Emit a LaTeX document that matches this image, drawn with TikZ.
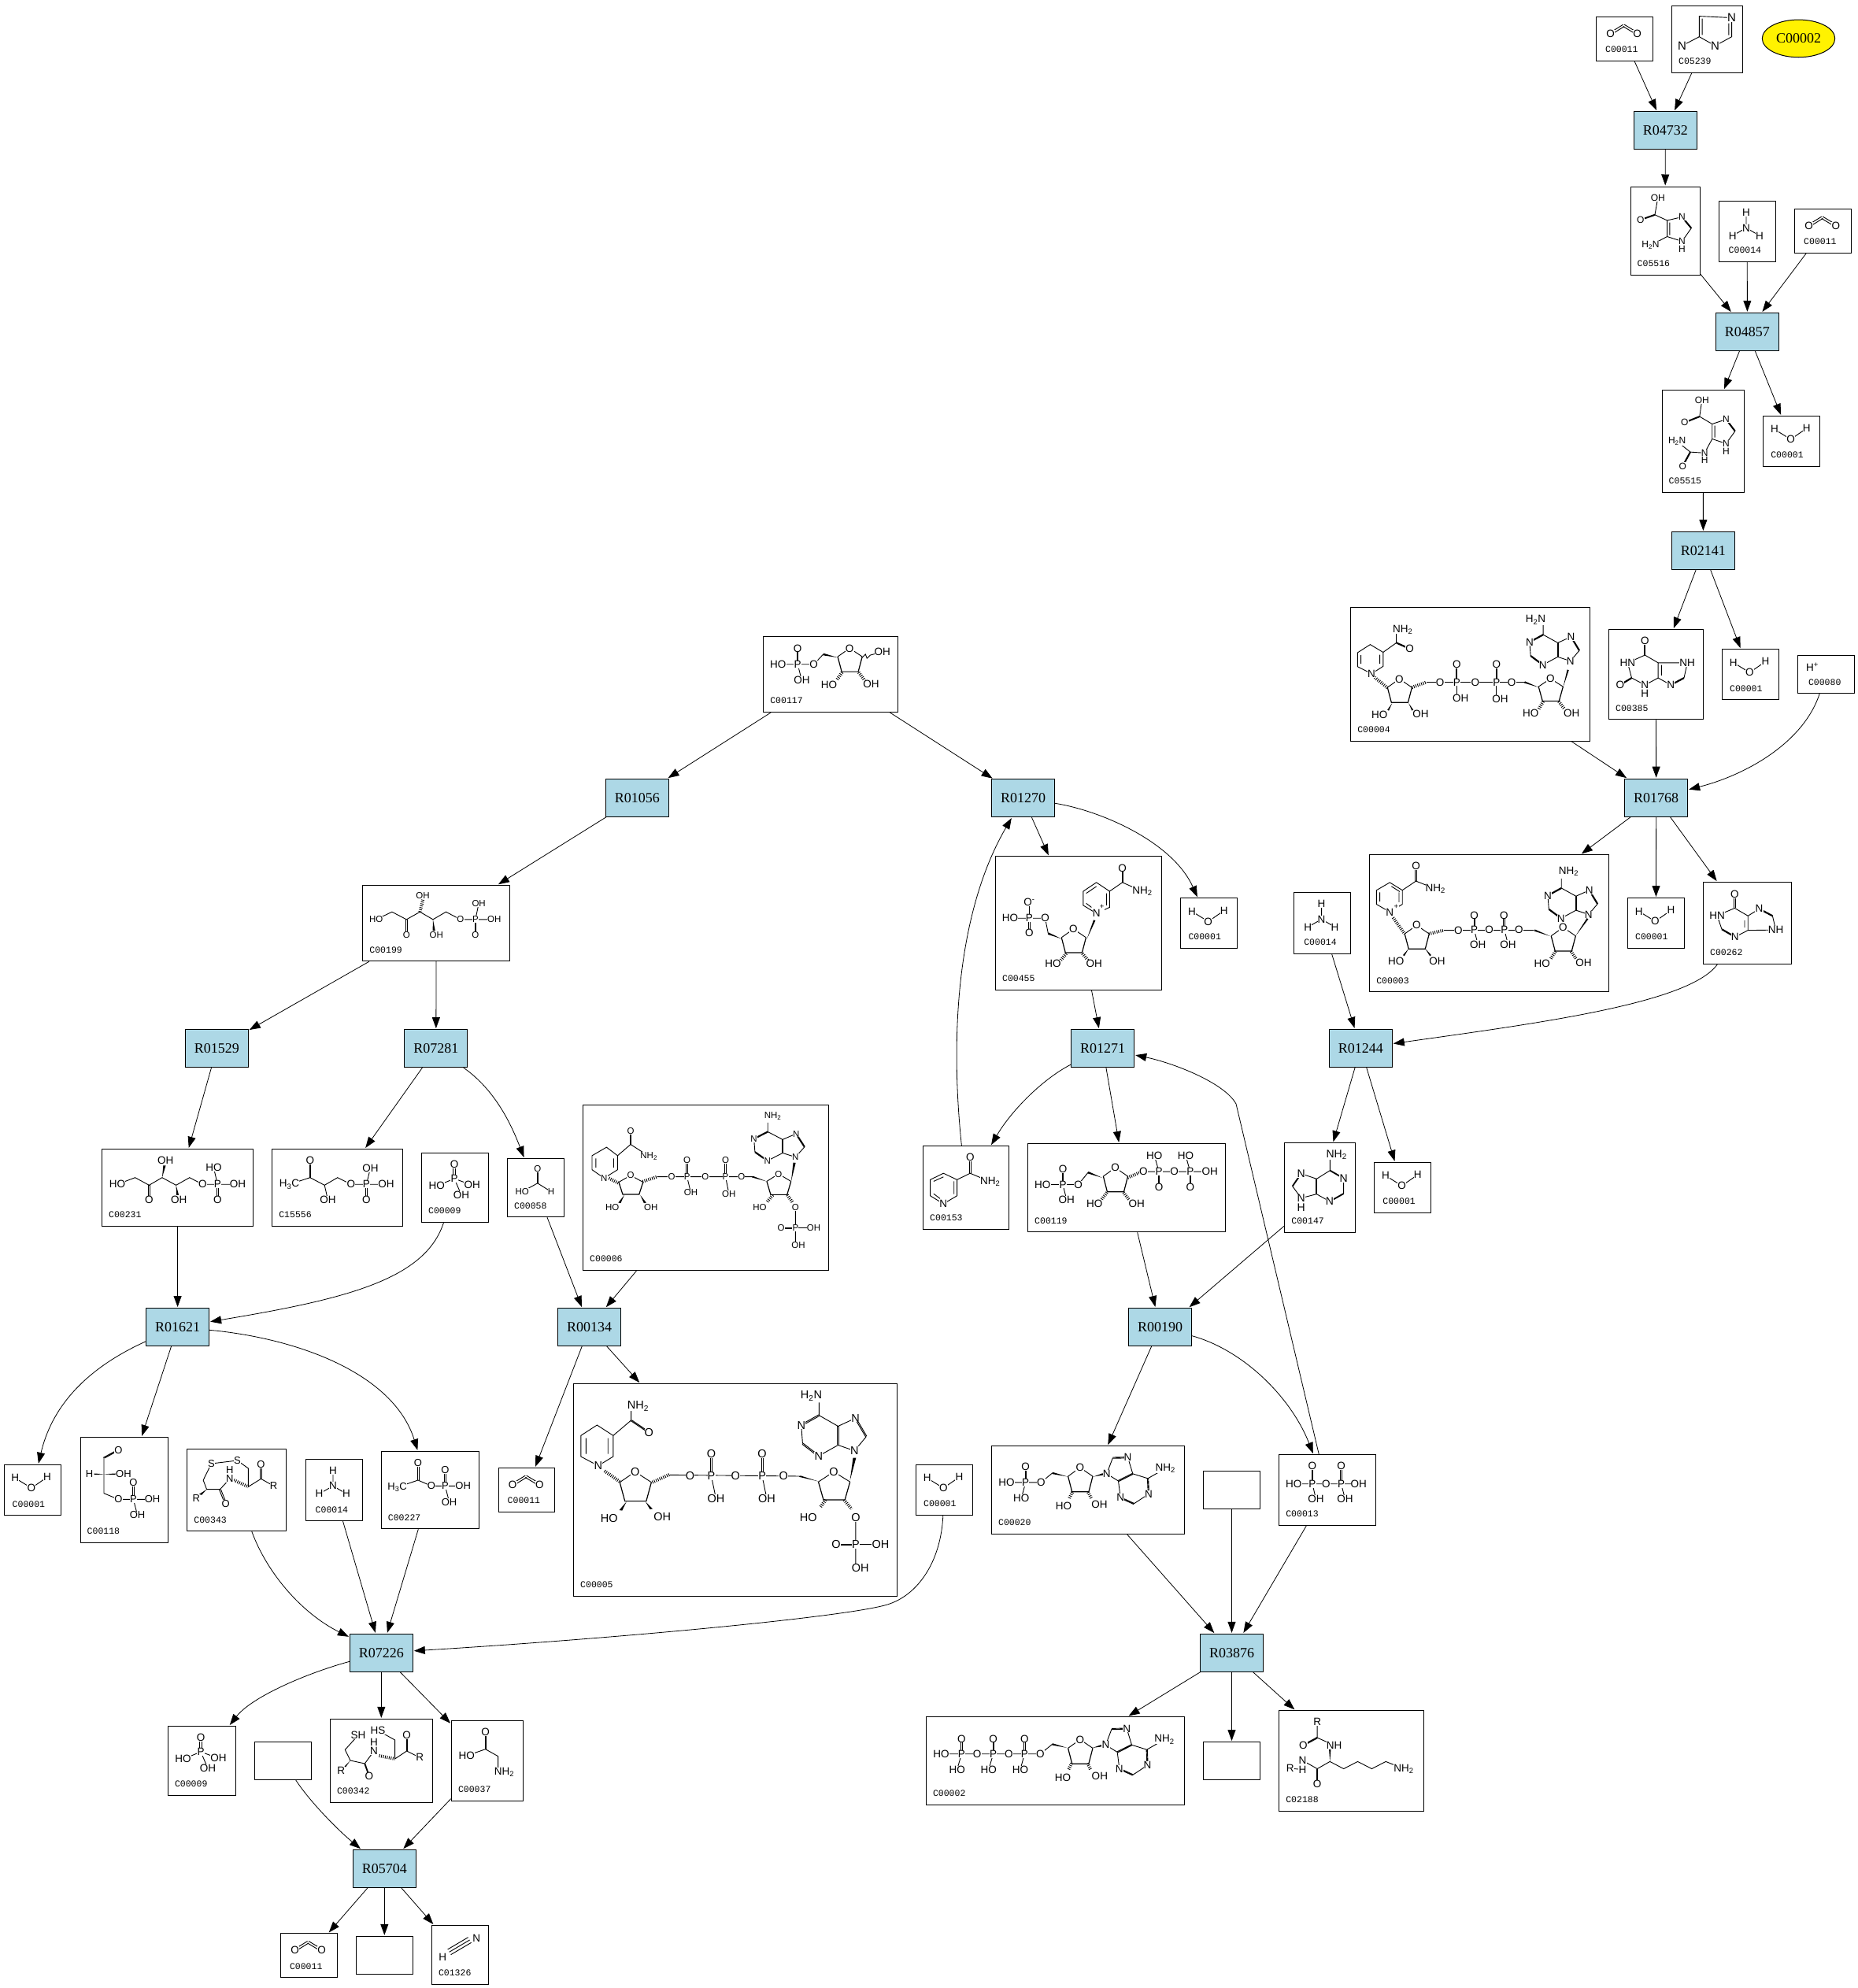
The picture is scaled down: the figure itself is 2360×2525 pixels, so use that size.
\documentclass[tikz,border=0pt]{standalone}
\usepackage{fontspec}
\setmainfont{Liberation Serif}
\setsansfont{Liberation Sans}
\setmonofont{Liberation Mono}
\usetikzlibrary{arrows.meta,calc,shapes.geometric}
\definecolor{rxnblue}{HTML}{ADD8E6}
\newcommand{\asize}{13.5}
\tikzset{
rxn/.style={draw,fill=rxnblue,line width=1pt,minimum width=80pt,minimum height=48pt,inner sep=0pt,font=\fontsize{18}{18}\selectfont},
cpdbox/.style={draw,line width=1pt,inner sep=0pt},
cid/.style={inner sep=0pt,anchor=west,font=\ttfamily\fontsize{11.5}{12}\selectfont},
atom/.style={fill=white,inner sep=.2pt,font=\sffamily\fontsize{\asize}{\asize}\selectfont},
bond/.style={line width=.9pt},
hashb/.style={line width=4pt,dash pattern=on .9pt off 1.6pt},
flow/.style={-{Triangle[length=14pt,width=10pt]},line width=.8pt,shorten >=1pt},
zoomA/.style={shift={(1700,0)},xscale=.4209,yscale=.3954},
zoomB/.style={shift={(1700,620)},xscale=.4209,yscale=.4464},
zoomC/.style={shift={(950,780)},xscale=.4785,yscale=.5102},
zoomD/.style={shift={(100,1100)},xscale=.6122,yscale=.3571},
zoomE/.style={shift={(0,1660)},xscale=.7334,yscale=.3333},
zoomF/.style={shift={(180,2060)},scale=.3333},
zoomG/.style={shift={(1150,1600)},xscale=.4464,yscale=.4592},
zoomH/.style={shift={(1620,1290)},scale=.3333}
}
\newcommand{\cpd}[7][9]{%
\node[cpdbox,minimum width={(#5-#3)*1pt},minimum height={(#6-#4)*1pt}] (#2) at ({(#3+#5)/2},{(#4+#6)/2}) {};
\node[cid] (#2-id) at ([xshift=#1pt,yshift=15pt]#2.south west) {#7};}
\newcommand{\atoms}[2]{\foreach \ax/\ay/\atxt [count=\ai] in {#2} \node[atom] (#1-\ai) at (\ax,\ay) {\atxt};}
\newcommand{\dbl}[2]{\draw[bond] ($(#1)!1.4pt!90:(#2)$) -- ($(#2)!1.4pt!-90:(#1)$) ($(#1)!1.4pt!-90:(#2)$) -- ($(#2)!1.4pt!90:(#1)$);}
\newcommand{\wdg}[2]{\fill (#1) -- ($(#2)!2.6pt!90:(#1)$) -- ($(#2)!2.6pt!-90:(#1)$) -- cycle;}
\newcommand{\furan}[5]{\begin{scope}[shift={(#2,#3)},xscale=#4,yscale=#5]
\draw[bond] (-36,24)--(0,0)--(38,24);
\draw[bond,line width=1.2pt] (38,24)--(26,67)--(-24,67)--(-36,24);
\node[atom] (#1) at (0,0) {O};
\end{scope}}
\newcommand{\adeup}[8]{\begin{scope}[shift={(#2,#3)},xscale=#4,yscale=#5]
\draw[bond] (0,0)--(27,-30) (2,-69)--(-38,-52)--(-82,-75) (-38,-12)--(0,0) (-38,-12)--(-83,11) (-120,-15)--(-123,-54) (-82,-75)--(-82,-102);
\dbl{27,-30}{2,-69}\dbl{-38,-52}{-38,-12}\dbl{-83,11}{-120,-15}\dbl{-123,-54}{-82,-75}
\atoms{#1}{0/0/N,2/-69/N,-83/11/N,-123/-54/N,#7/#8/#6}
\end{scope}}
\newcommand{\adeflip}[3]{\begin{scope}[shift={(#2,#3)}]
\draw[bond] (0,0)--(17,-44) (60,-45)--(74,0)--(117,13)--(167,-15) (33,20)--(0,0) (33,20)--(39,66) (77,83)--(119,56);
\dbl{17,-44}{60,-45}\dbl{74,0}{33,20}\dbl{39,66}{77,83}\dbl{119,56}{117,13}
\atoms{#1}{0/0/N,60/-45/N,39/66/N,119/56/N,167/-15/NH\textsubscript{2}}
\end{scope}}
\newcommand{\water}[3]{\begin{scope}[shift={(#2,#3)}]
\draw[bond] (14.3,17)--(34.9,29.7)--(55,15.8);
\atoms{#1}{14.3/17/H,34.9/29.7/O,55/15.8/H}
\end{scope}}
\newcommand{\cotwo}[3]{\begin{scope}[shift={(#2,#3)}]
\dbl{18.2,21.4}{35,11}\dbl{35,11}{52.3,21.4}
\atoms{#1}{18.2/21.4/O,52.3/21.4/O}
\end{scope}}
\newcommand{\ammonia}[3]{\begin{scope}[shift={(#2,#3)}]
\draw[bond] (35,14.6)--(35,34)--(17.6,44) (35,34)--(52,44);
\atoms{#1}{35/14.6/H,35/34/N,17.6/44/H,52/44/H}
\end{scope}}
\newcommand{\phos}[3]{\begin{scope}[shift={(#2,#3)}]
\dbl{41.7,14.7}{41.7,32.7}
\draw[bond] (19.3,42)--(41.7,32.7)--(64.3,41) (41.7,32.7)--(50.7,53.7);
\atoms{#1}{41.7/14.7/O,41.7/32.7/P,19.3/42/HO,64.3/41/OH,50.7/53.7/OH}
\end{scope}}
\begin{document}
\begin{tikzpicture}[x=1pt,y=-1pt]
\useasboundingbox[fill=white] (0,0) rectangle (2360,2525);
\node[ellipse,draw,fill=yellow,line width=1pt,minimum width=92.4pt,minimum height=47.7pt,inner sep=0pt,font=\fontsize{18}{18}\selectfont] (C00002y) at (2284.5,48.9) {C00002};
\node[rxn] (R04732) at (2115.4,165.5) {R04732};
\node[rxn] (R04857) at (2219.4,421.3) {R04857};
\node[rxn] (R02141) at (2163.4,699.5) {R02141};
\node[rxn] (R01768) at (2103.7,1013.2) {R01768};
\node[rxn] (R01244) at (1728.3,1331.3) {R01244};
\node[rxn] (R01056) at (809.3,1013.2) {R01056};
\node[rxn] (R01270) at (1299.6,1013.7) {R01270};
\node[rxn] (R01271) at (1400.7,1331.5) {R01271};
\node[rxn] (R01529) at (275.4,1331.6) {R01529};
\node[rxn] (R07281) at (553.8,1331.6) {R07281};
\node[rxn] (R01621) at (225.6,1685.5) {R01621};
\node[rxn] (R00134) at (748.7,1685.5) {R00134};
\node[rxn] (R00190) at (1473.5,1685.4) {R00190};
\node[rxn] (R03876) at (1564.5,2099.3) {R03876};
\node[rxn] (R07226) at (484.3,2099.3) {R07226};
\node[rxn] (R05704) at (488.3,2373.3) {R05704};
\node[cpdbox,minimum width=72pt,minimum height=48pt] (blankA) at (359.5,2236.5) {};
\node[cpdbox,minimum width=72pt,minimum height=48pt] (blankB) at (488.3,2483.3) {};
\node[cpdbox,minimum width=72pt,minimum height=48pt] (blankC) at (1564.5,1892.5) {};
\node[cpdbox,minimum width=72pt,minimum height=48pt] (blankD) at (1564.5,2236.6) {};
\cpd[12]{C00011a}{2027.4}{21.4}{2099.4}{77.5}{C00011}
\cpd[12]{C00011b}{2279.5}{265.3}{2351.5}{321.5}{C00011}
\cpd[12]{C00011c}{633}{1864.3}{704.3}{1920.3}{C00011}
\cpd[12]{C00011d}{356.3}{2455.7}{428.3}{2511.7}{C00011}
\cpd{C05239}{2123.4}{7.5}{2213.5}{92.5}{C05239}
\cpd{C05516}{2071}{237}{2159}{349.5}{C05516}
\cpd[13]{C00014a}{2183}{255.4}{2255.5}{332.5}{C00014}
\cpd[13]{C00014b}{1643.6}{1133.5}{1715.6}{1211.6}{C00014}
\cpd[13]{C00014c}{388}{1853.3}{460}{1931.7}{C00014}
\cpd{C05515}{2111}{495.5}{2215.6}{625.4}{C05515}
\cpd[10]{C00001a}{2239.6}{528.3}{2311.5}{592.3}{C00001}
\cpd[10]{C00001b}{2187.4}{824.5}{2259.4}{888.8}{C00001}
\cpd[10]{C00001c}{2067.4}{1140.5}{2139.4}{1204.4}{C00001}
\cpd[10]{C00001d}{1499.8}{1140.7}{1571.5}{1204.5}{C00001}
\cpd[11]{C00001e}{5}{1860.3}{77}{1924.7}{C00001}
\cpd[10]{C00001f}{1163.4}{1860.3}{1235.3}{1924.6}{C00001}
\cpd[11]{C00001g}{1745.7}{1476.3}{1817.3}{1540}{C00001}
\cpd{C00004}{1715.6}{771.3}{2019.4}{941.4}{C00004}
\cpd{C00385}{2043.4}{799.5}{2163.4}{913.8}{C00385}
\cpd[14]{C00080}{2283.3}{832.5}{2355.3}{880.7}{C00080}
\cpd{C00003}{1739.6}{1085.6}{2043.4}{1259.7}{C00003}
\cpd{C00262}{2163.4}{1120.4}{2275.3}{1224.5}{C00262}
\cpd{C00147}{1631.7}{1451.7}{1721.3}{1565.3}{C00147}
\cpd{C00117}{969.6}{808.6}{1140.4}{904.5}{C00117}
\cpd{C00455}{1264.4}{1087.7}{1475.8}{1257.6}{C00455}
\cpd{C00153}{1172.5}{1455.5}{1281.6}{1561.6}{C00153}
\cpd{C00119}{1305.5}{1452.4}{1556.7}{1564.7}{C00119}
\cpd{C00199}{460.7}{1124.3}{647.5}{1220.7}{C00199}
\cpd{C00231}{129.4}{1459.3}{321.7}{1557.5}{C00231}
\cpd{C15556}{345.6}{1459.3}{511.5}{1557.5}{C15556}
\cpd{C00009a}{535.4}{1464.3}{620.5}{1552.5}{C00009}
\cpd{C00009b}{213.3}{2192.3}{299.3}{2280.3}{C00009}
\cpd{C00058}{644.4}{1471.4}{716.7}{1545.7}{C00058}
\cpd{C00006}{740.5}{1403.2}{1052.8}{1613.6}{C00006}
\cpd{C00118}{102}{1825.3}{213.5}{1959.3}{C00118}
\cpd{C00343}{237.7}{1840.3}{363.2}{1944.7}{C00343}
\cpd{C00227}{484.2}{1843.3}{608.2}{1941.7}{C00227}
\cpd{C00005}{728.5}{1757.3}{1139.4}{2027.3}{C00005}
\cpd{C00342}{419.3}{2183.3}{549.3}{2289.3}{C00342}
\cpd{C00037}{573.3}{2185.3}{664.3}{2287.3}{C00037}
\cpd{C01326}{548.3}{2445.3}{620.3}{2520.3}{C01326}
\cpd{C00020}{1259.4}{1836.5}{1504.5}{1948.5}{C00020}
\cpd{C00013}{1624.6}{1847.5}{1747.3}{1937.5}{C00013}
\cpd{C00002}{1176.3}{2180.4}{1504.5}{2292.4}{C00002}
\cpd{C02188}{1624.6}{2172.5}{1808.5}{2300.6}{C02188}
\path[flow]
(C00011a) edge (R04732)
(C05239) edge (R04732)
(R04732) edge (C05516)
(C05516) edge (R04857)
(C00014a) edge (R04857)
(C00011b) edge (R04857)
(R04857) edge (C05515)
(R04857) edge (C00001a)
(C05515) edge (R02141)
(R02141) edge (C00385)
(R02141) edge (C00001b)
(C00004) edge (R01768)
(C00385) edge (R01768)
(R01768) edge (C00003)
(R01768) edge (C00001c)
(R01768) edge (C00262)
(C00014b) edge (R01244)
(R01244) edge (C00147)
(R01244) edge (C00001g)
(C00117) edge (R01056)
(C00117) edge (R01270)
(R01056) edge (C00199)
(C00199) edge (R01529)
(C00199) edge (R07281)
(R01529) edge (C00231)
(R07281) edge (C15556)
(C00231) edge (R01621)
(C00058) edge (R00134)
(C00006) edge (R00134)
(R01621) edge (C00118)
(R00134) edge (C00011c)
(R00134) edge (C00005)
(C00014c) edge (R07226)
(C00227) edge (R07226)
(R07226) edge (C00342)
(R07226) edge (C00037)
(C00037) edge (R05704)
(R05704) edge (C00011d)
(R05704) edge (blankB)
(R05704) edge (C01326)
(R01270) edge (C00455)
(C00455) edge (R01271)
(R01271) edge (C00119)
(C00119) edge (R00190)
(C00147.-133) edge (R00190.34)
(R00190) edge (C00020)
(C00020) edge (R03876)
(blankC) edge (R03876)
(C00013) edge (R03876)
(R03876) edge (C00002)
(R03876) edge (blankD)
(R03876) edge (C02188);
\draw[flow] (C00080) .. controls (2290,945) and (2215,985) .. (R01768);
\draw[flow] (C00262) .. controls (2145,1275) and (1950,1300) .. (R01244);
\draw[flow] (R07281) .. controls (630,1385) and (650,1430) .. (C00058);
\draw[flow] (C00009a) .. controls (540,1625) and (440,1650) .. (R01621);
\draw[flow] (R01621) .. controls (105,1740) and (65,1790) .. (C00001e);
\draw[flow] (R01621) .. controls (380,1700) and (500,1745) .. (C00227);
\draw[flow] (C00343) .. controls (340,2000) and (385,2050) .. (R07226);
\draw[flow] (C00001f) .. controls (1195,1985) and (1165,2025) .. (1130,2037) .. controls (1090,2052) and (800,2080) .. (R07226);
\draw[flow] (R07226) .. controls (390,2125) and (320,2155) .. (C00009b);
\draw[flow] (blankA) .. controls (395,2290) and (430,2325) .. (R05704);
\draw[flow] (R01270) .. controls (1400,1030) and (1490,1070) .. (C00001d);
\draw[flow] (C00153) .. controls (1205,1300) and (1220,1150) .. (R01270);
\draw[flow] (R01271) .. controls (1325,1370) and (1285,1410) .. (C00153);
\draw[flow] (C00013) -- (1570,1402) .. controls (1555,1375) and (1490,1350) .. (R01271);
\draw[flow] (R00190) .. controls (1580,1715) and (1640,1775) .. (C00013);
\water{wA}{2239.6}{528.3}
\water{wB}{2187.4}{824.5}
\water{wC}{2067.4}{1140.5}
\water{wD}{1499.8}{1140.7}
\water{wE}{5}{1860.3}
\water{wF}{1163.4}{1860.3}
\water{wG}{1745.7}{1476.3}
\cotwo{oA}{2027.4}{21.4}
\cotwo{oB}{2279.5}{265.3}
\cotwo{oC}{633}{1864.3}
\cotwo{oD}{356.3}{2455.7}
\ammonia{nA}{2183}{255.4}
\ammonia{nB}{1643.6}{1133.5}
\ammonia{nC}{388}{1853.3}
\phos{pA}{535.4}{1464.3}
\phos{pB}{213.3}{2192.3}
\node[atom] (hplus) at (2302,847) {H\textsuperscript{+}};
\begin{scope}[zoomA]
\renewcommand{\asize}{15}
\draw[bond] (1037,147)--(1089,118)--(1089,52)--(1187,57)--(1187,118)--(1137,147)--(1089,118) (1098,112)--(1098,60) (1178,75)--(1178,113);
\atoms{mC05239}{1187/57/N,1137/147/N,1037/147/N}
\renewcommand{\asize}{12}
\draw[bond] (964,636)--(955,690)--(992,708)--(1037,697) (1065,733)--(1037,775)--(992,760)--(992,708) (1000,755)--(1000,715) (992,760)--(942,788);
\dbl{955,690}{912,706}\dbl{1037,697}{1065,733}
\atoms{mC05516}{964/636/OH,912/706/O,1037/697/N,1037/775/N,1037/800/H,942/788/H\textsubscript{2}N}
\draw[bond] (1097,1286)--(1090,1338)--(1128,1362)--(1170,1347) (1197,1385)--(1170,1425)--(1128,1410)--(1128,1362) (1136,1405)--(1136,1367) (1128,1410)--(1105,1455)--(1062,1452)--(1022,1418);
\dbl{1090,1338}{1045,1357}\dbl{1170,1347}{1197,1385}\dbl{1062,1452}{1039,1497}
\atoms{mC05515}{1097/1286/OH,1045/1357/O,1170/1347/N,1170/1425/N,1170/1450/H,1022/1418/H\textsubscript{2}N,1039/1497/O,1105/1455/N,1105/1478/H}
\end{scope}
\begin{scope}[zoomB]
\draw[bond] (135,507)--(100,528)--(58,508)--(58,468)--(96,445)--(135,467)--(135,507) (68,500)--(68,475) (125,474)--(125,500) (135,467)--(175,440)--(175,405);
\dbl{175,440}{215,457}
\draw[hashb] (105,535)--(148,568) (222,567)--(265,552);
\draw[bond] (265,552)--(562,552) (357,552)--(357,590) (477,552)--(477,590);
\dbl{357,502}{357,552}\dbl{477,502}{477,552}
\wdg{605,567}{562,552}\wdg{678,567}{693,517}\wdg{162,612}{150,632}\wdg{212,612}{224,632}
\draw[hashb] (618,607)--(605,628) (665,607)--(682,628);
\furan{fA}{184}{543}{1}{1}
\furan{fB}{640}{542}{1}{.95}
\adeup{aA}{700}{492}{1}{1}{H\textsubscript{2}N}{-105}{-117}
\atoms{mC00004}{100/528/N,194/402/NH\textsubscript{2},215/457/O,307/552/O,357/552/P,357/502/O,369/598/OH,413/552/O,477/552/P,477/502/O,488/600/OH,523/552/O,124/645/HO,248/643/OH,580/640/HO,704/640/OH}
\draw[bond] (155,1206)--(115,1184)--(115,1144)--(155,1122)--(193,1144)--(193,1184)--cycle (125,1176)--(125,1150) (160,1133)--(185,1148) (183,1150)--(183,1178) (193,1144)--(234,1118)--(293,1140);
\dbl{234,1076}{234,1118}
\draw[hashb] (165,1222)--(200,1268) (273,1268)--(318,1258);
\draw[bond] (318,1258)--(590,1258) (410,1257)--(421,1298) (501,1257)--(512,1298);
\dbl{410,1215}{410,1257}\dbl{500,1215}{500,1257}
\wdg{640,1275}{592,1258}\wdg{715,1275}{752,1225}\wdg{212,1310}{197,1330}\wdg{262,1310}{278,1330}
\draw[hashb] (655,1318)--(640,1340) (702,1318)--(718,1340);
\furan{fC}{236}{1244}{1}{1}
\furan{fD}{678}{1250}{1}{1}
\adeup{aB}{755}{1213}{1}{1}{NH\textsubscript{2}}{-60}{-123}
\atoms{mC00003}{155/1206/N,234/1076/O,293/1140/NH\textsubscript{2},362/1258/O,410/1257/P,410/1215/O,421/1298/OH,455/1257/O,501/1257/P,500/1215/O,512/1298/OH,545/1257/O,174/1345/HO,298/1345/OH,615/1352/HO,740/1350/OH,175/1196/\textsuperscript{+}}
\draw[bond] (925,475)--(873,497)--(885,540)--(925,560)--(965,540)--(965,497)--(925,475) (975,533)--(975,503) (965,497)--(1053,497)--(1043,540) (1003,560)--(965,540);
\dbl{925,435}{925,475}\dbl{885,540}{850,560}\dbl{1043,540}{1003,560}
\atoms{mC00385}{925/435/O,873/497/HN,850/560/O,925/560/N,925/585/H,1053/497/NH,1003/560/N}
\draw[bond] (1196,1195)--(1143,1216)--(1157,1255) (1197,1277)--(1236,1258)--(1236,1217)--(1196,1195) (1236,1217)--(1270,1197) (1310,1217)--(1320,1257)--(1236,1258) (1226,1230)--(1226,1250);
\dbl{1196,1155}{1196,1195}\dbl{1157,1255}{1197,1277}\dbl{1270,1197}{1310,1217}
\atoms{mC00262}{1196/1155/O,1143/1216/HN,1197/1277/N,1270/1197/N,1320/1257/NH}
\end{scope}
\begin{scope}[zoomC]
\draw[bond] (80,125)--(175,125)--(200,100) (132,125)--(143,165) (303,108)--(312,100)--(316,110)--(325,102)--(357,94);
\dbl{132,85}{132,125}
\wdg{238,108}{200,100}
\draw[hashb] (250,145)--(235,165) (294,145)--(310,165);
\furan{fE}{270}{85}{.88}{.87}
\atoms{mC00117}{80/125/HO,132/125/P,132/85/O,143/165/OH,175/125/O,215/176/HO,327/174/OH,357/94/OH}
\draw[bond] (925,745)--(960,730)--(960,690)--(925,668)--(890,690)--(890,725)--cycle (952,695)--(952,725) (898,695)--(925,678) (898,720)--(912,730) (960,690)--(994,668)--(1047,690) (696,757)--(789,757)--(797,795) (747,718)--(747,757);
\dbl{994,632}{994,668}\dbl{747,757}{747,793}
\wdg{832,808}{797,795}\wdg{900,808}{920,762}
\draw[hashb] (845,845)--(830,862) (888,845)--(903,862);
\furan{fF}{864}{784}{.88}{.88}
\atoms{mC00455}{994/632/O,1047/690/NH\textsubscript{2},925/745/N,940/733/\textsuperscript{+},747/718/O\textsuperscript{-},696/757/HO,747/757/P,747/793/O,789/757/O,810/870/HO,919/870/OH}
\draw[bond] (519,1468)--(555,1448)--(555,1408)--(519,1392)--(484,1408)--(484,1448)--cycle (547,1412)--(547,1444) (493,1412)--(519,1401) (493,1443)--(510,1455) (555,1408)--(590,1392)--(643,1413);
\dbl{590,1353}{590,1392}
\atoms{mC00153}{590/1353/O,643/1413/NH\textsubscript{2},519/1468/N}
\draw[bond] (782,1420)--(877,1420)--(903,1390) (836,1420)--(846,1458) (1050,1388)--(1226,1388) (1091,1388)--(1079,1348) (1174,1388)--(1162,1348);
\dbl{836,1381}{836,1420}\dbl{1091,1388}{1091,1427}\dbl{1174,1388}{1174,1427}
\wdg{940,1403}{903,1390}
\draw[hashb] (1008,1403)--(1040,1390) (953,1440)--(938,1458) (997,1440)--(1012,1458);
\furan{fG}{975}{1378}{.88}{.9}
\atoms{mC00119}{782/1420/HO,836/1420/P,836/1381/O,846/1458/OH,877/1420/O,1050/1388/O,1091/1388/P,1079/1348/HO,1091/1427/O,1132/1388/O,1174/1388/P,1162/1348/HO,1174/1427/O,1226/1388/OH,920/1468/HO,1032/1468/OH}
\end{scope}
\begin{scope}[zoomD]
\renewcommand{\asize}{11.5}
\draw[bond] (617,190)--(650,163)--(680,190)--(708,163)--(735,190)--(762,163)--(792,190)--(862,190) (823,190)--(830,133);
\dbl{680,190}{680,245}\dbl{823,190}{823,245}
\draw[hashb] (708,163)--(714,120);
\wdg{735,190}{737,230}
\atoms{mC00199}{617/190/HO,680/245/O,714/105/OH,742/245/OH,792/190/O,823/190/P,830/133/OH,862/190/OH,823/245/O}
\renewcommand{\asize}{13.5}
\draw[bond] (80,1132)--(117,1108)--(146,1135)--(173,1108)--(202,1135)--(230,1108)--(257,1132)--(330,1132) (288,1132)--(280,1073);
\dbl{146,1135}{146,1188}\dbl{288,1132}{288,1188}
\wdg{173,1108}{178,1065}\wdg{202,1135}{205,1170}
\atoms{mC00231}{80/1132/HO,146/1188/O,180/1048/OH,208/1188/OH,257/1132/O,288/1132/P,280/1073/HO,330/1132/OH,288/1188/O}
\draw[bond] (437,1132)--(480,1108)--(510,1135)--(537,1108)--(565,1132)--(638,1132) (510,1135)--(517,1188) (597,1132)--(605,1075);
\dbl{480,1048}{480,1108}\dbl{597,1132}{597,1188}
\atoms{mC15556}{437/1132/H\textsubscript{3}C,480/1048/O,517/1188/OH,565/1132/O,597/1132/P,605/1075/OH,638/1132/OH,597/1188/O}
\renewcommand{\asize}{11.5}
\draw[bond] (920,1158)--(952,1128)--(980,1158);
\dbl{952,1076}{952,1128}
\atoms{mC00058}{952/1076/O,920/1158/HO,980/1158/H}
\draw[bond] (1090,1110)--(1065,1080)--(1065,1030)--(1095,1000)--(1118,1030)--(1118,1080)--cycle (1073,1072)--(1073,1040) (1110,1040)--(1110,1072) (1118,1030)--(1145,990)--(1183,1032);
\dbl{1145,942}{1145,990}
\draw[hashb] (1100,1110)--(1120,1128) (1170,1122)--(1200,1105);
\draw[bond] (1200,1105)--(1398,1105) (1262,1105)--(1270,1162) (1342,1105)--(1349,1165) (1487,1215)--(1487,1348);
\dbl{1262,1047}{1262,1105}\dbl{1342,1047}{1342,1105}\dbl{1457,1287}{1487,1287}
\draw[bond] (1487,1287)--(1525,1287);
\wdg{1428,1122}{1398,1105}\wdg{1478,1122}{1485,1055}\wdg{1132,1170}{1122,1198}\wdg{1165,1170}{1175,1198}
\draw[hashb] (1440,1170)--(1428,1195) (1470,1170)--(1482,1198);
\furan{fH}{1145}{1100}{.68}{1.01}
\furan{fI}{1452}{1095}{.68}{1.1}
\adeup{aC}{1487}{1035}{.7}{1.2}{NH\textsubscript{2}}{-67}{-121}
\atoms{mC00006}{1090/1110/N,1145/942/O,1183/1032/NH\textsubscript{2},1230/1105/O,1262/1105/P,1262/1047/O,1270/1162/OH,1300/1105/O,1342/1105/P,1342/1047/O,1349/1165/OH,1375/1105/O,1107/1215/HO,1187/1215/OH,1413/1215/HO,1487/1215/O,1487/1287/P,1457/1287/O,1525/1287/OH,1493/1348/OH}
\end{scope}
\begin{scope}[zoomE]
\renewcommand{\asize}{13}
\draw[bond] (180,575)--(180,710)--(205,733)--(264,733) (231,733)--(238,793);
\dbl{205,545}{180,575}\dbl{231,670}{231,733}
\wdg{180,637}{163,637}\wdg{180,637}{200,637}
\atoms{mC00118}{205/545/O,155/635/H,214/635/OH,205/733/O,231/733/P,231/670/O,264/733/OH,238/793/OH}
\draw[bond] (366,597)--(411,585)--(430,615)--(430,685)--(452,655)--(474,682) (366,597)--(352,660)--(358,695)--(381,695)--(398,655);
\dbl{381,695}{391,750}\dbl{452,600}{452,655}
\wdg{358,695}{347,715}
\draw[hashb] (405,660)--(430,685);
\atoms{mC00343}{366/597/S,411/585/S,340/728/R,391/750/O,398/655/N,398/620/H,452/600/O,474/682/R}
\draw[bond] (688,687)--(724,660)--(747,682)--(802,682) (771,682)--(778,743);
\dbl{724,595}{724,660}\dbl{771,622}{771,682}
\atoms{mC00227}{688/687/H\textsubscript{3}C,724/595/O,747/682/O,771/682/P,771/622/O,802/682/OH,778/743/OH}
\renewcommand{\asize}{14.5}
\draw[bond] (1036,605)--(1006,570)--(1006,490)--(1034,450)--(1062,490)--(1062,570)--cycle (1015,560)--(1015,500) (1053,500)--(1053,560) (1062,490)--(1093,432)--(1093,395);
\dbl{1093,432}{1124,478}
\draw[hashb] (1047,625)--(1075,668) (1130,668)--(1160,638);
\draw[bond] (1160,640)--(1385,645) (1232,645)--(1240,730) (1320,645)--(1328,730) (1482,802)--(1482,995) (1482,905)--(1525,905);
\dbl{1232,560}{1232,645}\dbl{1320,560}{1320,645}\dbl{1448,905}{1482,905}
\wdg{1418,665}{1385,645}\wdg{1472,662}{1480,575}\wdg{1085,742}{1075,775}\wdg{1118,742}{1128,770}
\draw[hashb] (1430,735)--(1420,765) (1462,735)--(1475,770);
\furan{fJ}{1100}{628}{.74}{1.67}
\furan{fK}{1444}{628}{.74}{1.6}
\adeup{aD}{1480}{548}{.75}{1.8}{H\textsubscript{2}N}{-100}{-116}
\atoms{mC00005}{1036/605/N,1105/378/NH\textsubscript{2},1124/478/O,1195/645/O,1232/645/P,1232/560/O,1240/730/OH,1274/645/O,1320/645/P,1320/560/O,1328/730/OH,1357/645/O,1055/805/HO,1147/800/OH,1400/803/HO,1482/802/O,1482/905/P,1448/905/O,1525/905/OH,1490/995/OH}
\end{scope}
\begin{scope}[zoomF]
\draw[bond] (825,432)--(775,487)--(795,528)--(850,540)--(885,492) (965,522)--(965,450)--(900,414) (965,522)--(1010,492)--(1060,517);
\dbl{850,540}{867,588}\dbl{1010,432}{1010,492}
\wdg{795,528}{775,552}
\draw[hashb] (905,510)--(965,522);
\atoms{mC00342}{825/432/SH,760/567/R,867/588/O,885/492/N,885/458/H,900/414/HS,1010/432/O,1060/517/R}
\draw[bond] (1238,510)--(1310,485)--(1358,512)--(1358,555)--(1382,572);
\dbl{1310,420}{1310,485}
\atoms{mC00037}{1310/420/O,1238/510/HO,1382/572/NH\textsubscript{2}}
\draw[bond] (1172,1258)--(1250,1212) (1166,1248)--(1244,1202) (1178,1268)--(1256,1222);
\atoms{mC01326}{1147/1278/H,1276/1205/N}
\end{scope}
\begin{scope}[zoomG]
\draw[bond] (288,616)--(386,616)--(418,590) (342,616)--(330,660);
\dbl{342,573}{342,616}
\wdg{462,600}{418,590}\wdg{535,600}{562,593}
\draw[hashb] (475,643)--(465,662) (520,643)--(530,662);
\furan{fL}{497}{575}{.95}{1}
\adeflip{aE}{573}{592}
\atoms{mC00020}{288/616/HO,342/616/P,342/573/O,330/660/HO,386/616/O,450/682/HO,552/677/OH}
\draw[bond] (102,1367)--(384,1367)--(418,1340) (160,1367)--(147,1410) (250,1367)--(237,1410) (339,1367)--(327,1410);
\dbl{160,1325}{160,1367}\dbl{250,1325}{250,1367}\dbl{339,1325}{339,1367}
\wdg{460,1350}{418,1340}\wdg{533,1350}{558,1344}
\draw[hashb] (473,1393)--(463,1412) (518,1393)--(528,1412);
\furan{fM}{497}{1327}{.95}{1}
\adeflip{aF}{570}{1342}
\atoms{mC00002b}{102/1367/HO,160/1367/P,160/1325/O,147/1410/HO,204/1367/O,250/1367/P,250/1325/O,237/1410/HO,294/1367/O,339/1367/P,339/1325/O,327/1410/HO,384/1367/O,448/1433/HO,553/1428/OH}
\draw[bond] (1105,620)--(1290,620) (1158,620)--(1168,661) (1240,620)--(1251,661);
\dbl{1158,570}{1158,620}\dbl{1240,570}{1240,620}
\atoms{mC00013}{1105/620/HO,1158/620/P,1158/570/O,1168/661/OH,1197/620/O,1240/620/P,1240/570/O,1251/661/OH,1290/620/OH}
\draw[bond] (1172,1278)--(1172,1322)--(1220,1343) (1208,1388)--(1172,1408)--(1130,1385) (1130,1410)--(1095,1407) (1208,1388)--(1247,1408)--(1287,1388)--(1327,1408)--(1367,1388)--(1418,1408);
\dbl{1172,1322}{1132,1343}\dbl{1172,1408}{1172,1450}
\wdg{1208,1388}{1208,1355}
\atoms{mC02188}{1172/1278/R,1132/1343/O,1220/1343/NH,1130/1385/N,1130/1410/H,1095/1407/R,1172/1450/O,1418/1408/NH\textsubscript{2}}
\end{scope}
\begin{scope}[zoomH]
\renewcommand{\asize}{14}
\draw[bond] (208,590)--(208,545) (260,620)--(260,678) (207,708)--(157,680)--(98,695)--(65,650) (98,602)--(157,622)--(208,590);
\dbl{208,590}{260,620}\dbl{260,678}{207,708}\dbl{157,680}{157,622}\dbl{98,602}{65,650}
\atoms{mC00147}{233/530/NH\textsubscript{2},260/620/N,207/708/N,98/602/N,98/695/N,98/730/H}
\end{scope}
\end{tikzpicture}
\end{document}
